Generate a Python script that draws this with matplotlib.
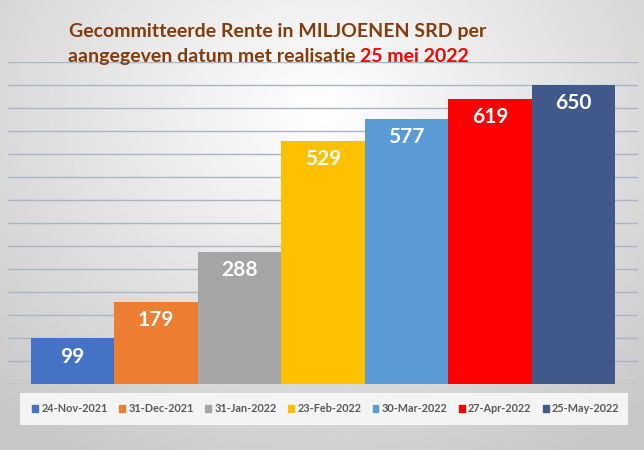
import numpy as np
import matplotlib
matplotlib.use('Agg')
import matplotlib.pyplot as plt
from matplotlib.patches import Rectangle

dates = ['24-Nov-2021', '31-Dec-2021', '31-Jan-2022', '23-Feb-2022',
         '30-Mar-2022', '27-Apr-2022', '25-May-2022']
values = [99, 179, 288, 529, 577, 619, 650]
colors = ['#4472C4', '#ED7D31', '#A5A5A5', '#FFC000',
          '#5B9BD5', '#FF0000', '#3F5A8A']

plt.rcParams['font.family'] = ['Lato', 'DejaVu Sans']

fig = plt.figure(figsize=(6.44, 4.5), dpi=100)

# gradient background (light centre, grey edges)
bg = fig.add_axes([0, 0, 1, 1], zorder=-10)
yy, xx = np.mgrid[0:1:200j, 0:1:300j]
r = np.sqrt(((xx - 0.5) / 0.75) ** 2 + ((yy - 0.25) / 0.9) ** 2)
bg.imshow(1 - 0.22 * np.clip(r, 0, 1), cmap='gray', vmin=0, vmax=1,
          aspect='auto', extent=[0, 1, 0, 1], origin='upper')
bg.axis('off')

ax = fig.add_axes([8 / 644, 66 / 450, 630 / 644, 322 / 450])
ax.patch.set_alpha(0)
x = np.arange(len(values))
bars = ax.bar(x, values, width=1.0, color=colors, zorder=3)
ax.set_xlim(-0.5 - 0.27, len(values) - 0.5 + 0.27)
ax.set_ylim(0, 700)
ax.set_yticks(np.arange(0, 701, 50))
ax.grid(True, axis='y', color='#A9B6C6', linewidth=1.0, zorder=0)
ax.tick_params(left=False, bottom=False, labelleft=False, labelbottom=False)
for s in ax.spines.values():
    s.set_visible(False)

for b, v in zip(bars, values):
    ax.annotate(str(v), (b.get_x() + b.get_width() / 2, v), xytext=(0, -13),
                textcoords='offset points', ha='center', va='center',
                color='white', fontsize=15, fontweight='bold', zorder=4)

# title
brown = '#843C0C'
fig.text(69 / 644, 1 - 37 / 450, 'Gecommitteerde Rente in MILJOENEN SRD per',
         ha='left', va='baseline', color=brown, fontsize=14, fontweight='bold')
t2 = fig.text(68 / 644, 1 - 62 / 450, 'aangegeven datum met realisatie ',
              ha='left', va='baseline', color=brown, fontsize=14, fontweight='bold')
ax.annotate('25 mei 2022', xy=(1, 0), xycoords=t2, ha='left', va='bottom',
            color='#FF0000', fontsize=14, fontweight='bold')

# legend box
fig.patches.append(Rectangle((20 / 644, 1 - 425 / 450), 608 / 644, 32 / 450,
                             transform=fig.transFigure, facecolor='#F4F4F4',
                             edgecolor='none', zorder=1))
handles = [Rectangle((0, 0), 1, 1, color=c) for c in colors]
leg = fig.legend(handles, dates, loc='center', bbox_to_anchor=(326 / 644, 1 - 409 / 450),
                 ncol=7, frameon=False, handlelength=0.55, handleheight=0.55,
                 handletextpad=0.3, columnspacing=1.05,
                 prop={'size': 7.8, 'weight': 'bold'})
for t in leg.get_texts():
    t.set_color('#595959')

fig.savefig('out.png', dpi=100)
